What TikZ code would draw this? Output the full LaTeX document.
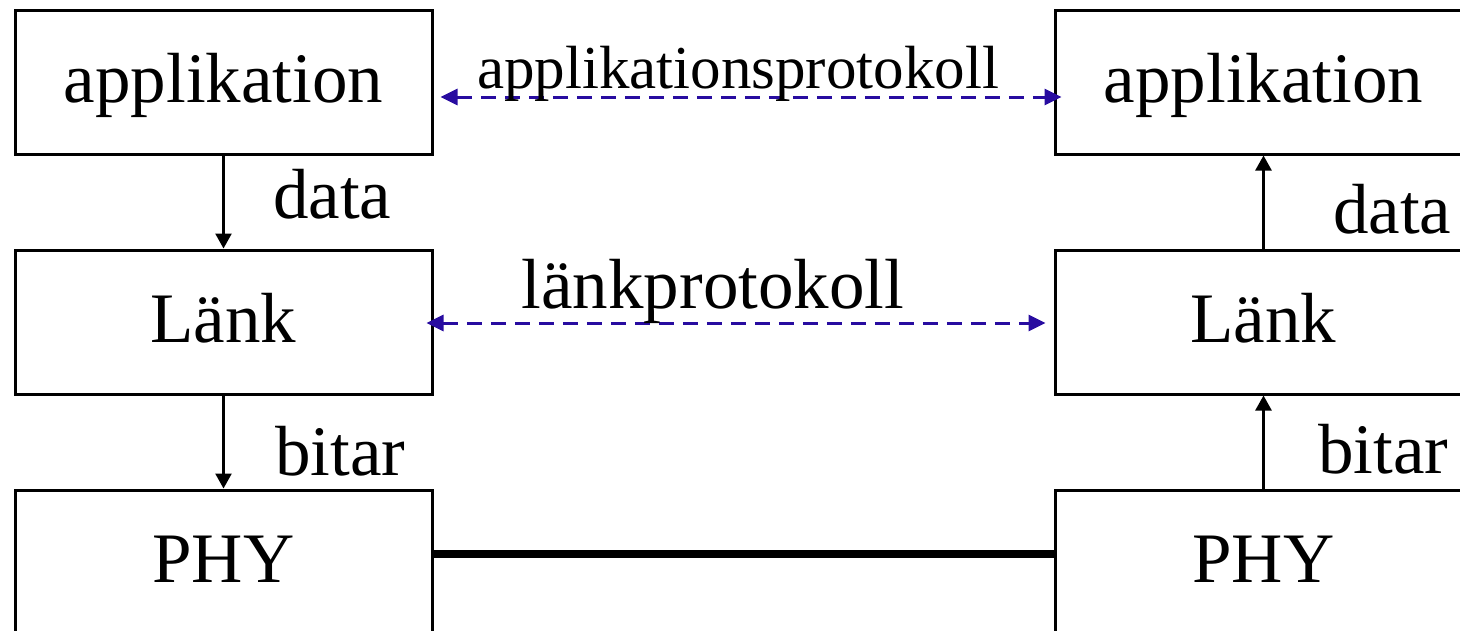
\documentclass[tikz,border=0pt]{standalone}
\usepackage{fontspec}
\setmainfont{Liberation Serif}
\usetikzlibrary{arrows.meta}
\definecolor{protoblue}{RGB}{40,12,160}
\tikzset{
  layerbox/.style={draw=black, line width=3pt, minimum width=417pt, minimum height=144pt,
    inner sep=0pt, text height=50pt, text depth=10pt, font=\fontsize{71}{80}\selectfont},
  lbl/.style={inner sep=0pt, font=\fontsize{71}{80}\selectfont},
  flow/.style={line width=2.5pt, -{Triangle[length=15pt,width=16pt]}},
  proto/.style={protoblue, line width=3pt, dash pattern=on 15pt off 9pt,
    {Triangle[length=17pt,width=16pt]}-{Triangle[length=17pt,width=16pt]}},
  wire/.style={line width=8pt}
}
\begin{document}
\begin{tikzpicture}[x=1pt,y=-1pt]
\useasboundingbox (0,0) rectangle (1460,630);
\clip (0,0) rectangle (1460,630);
% left stack
\node[layerbox] (a1) at (223.5,82) {applikation};
\node[layerbox] (l1) at (223.5,322) {Länk};
\node[layerbox] (p1) at (223.5,562) {PHY};
% right stack
\node[layerbox] (a2) at (1263.5,82) {applikation};
\node[layerbox] (l2) at (1263.5,322) {Länk};
\node[layerbox] (p2) at (1263.5,562) {PHY};
% vertical flows
\draw[flow] (a1.south) -- (l1.north);
\draw[flow] (l1.south) -- (p1.north);
\draw[flow] (l2.north) -- (a2.south);
\draw[flow] (p2.north) -- (l2.south);
% labels
\node[lbl, anchor=base west] (dl) at (273,218) {data};
\node[lbl, anchor=base west] (bl) at (275,475) {bitar};
\node[lbl, anchor=base west] (dr) at (1333,233) {data};
\node[lbl, anchor=base west] (br) at (1318,473) {bitar};
% protocols
\draw[proto] ([shift={(7,15)}]a1.east) -- ([shift={(8,15)}]a2.west);
\draw[proto] ([shift={(-7,1)}]l1.east) -- ([shift={(-8,1)}]l2.west);
\node[inner sep=0pt, font=\fontsize{61}{70}\selectfont, anchor=base] (ap) at (738,88) {applikationsprotokoll};
\node[lbl, anchor=base] (lp) at (713,308) {länkprotokoll};
% physical link
\draw[wire] ([shift={(0,-8)}]p1.east) -- ([shift={(0,-8)}]p2.west);
\end{tikzpicture}
\end{document}
